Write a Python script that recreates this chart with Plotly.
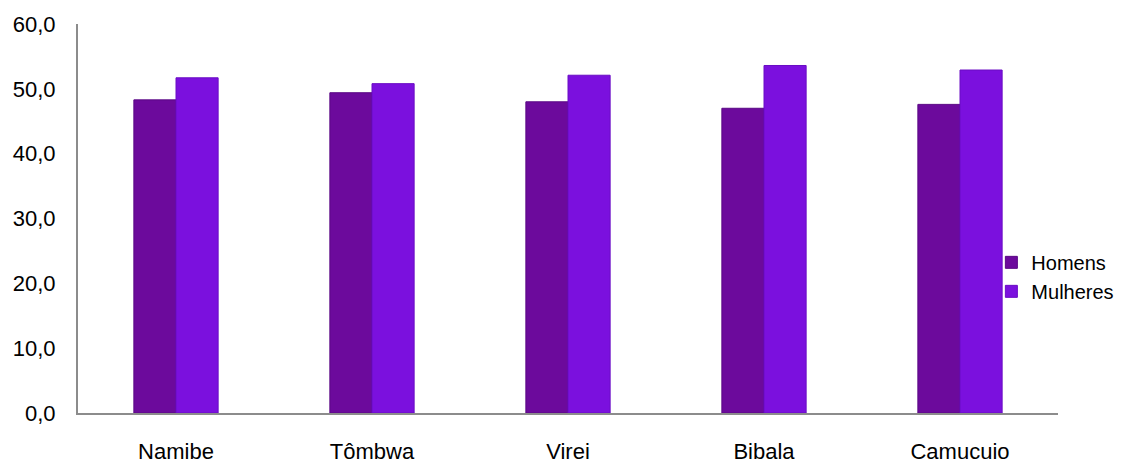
import plotly.graph_objects as go

categories = ["Namibe", "Tômbwa", "Virei", "Bibala", "Camucuio"]
homens = [48.3, 49.4, 48.0, 47.0, 47.6]
mulheres = [51.7, 50.8, 52.1, 53.6, 52.9]
y_ticks = [0, 10, 20, 30, 40, 50, 60]

font_family = "Liberation Sans Narrow, Arial Narrow, Liberation Sans, Arial, sans-serif"

fig = go.Figure()
fig.add_trace(go.Bar(name="Homens", x=categories, y=homens,
                     marker=dict(color="#6c0a9c", line=dict(color="#5a0885", width=1))))
fig.add_trace(go.Bar(name="Mulheres", x=categories, y=mulheres,
                     marker=dict(color="#7b10de", line=dict(color="#6a0cc4", width=1))))

# page body has an 8px margin, so the figure is slightly smaller and shifted
fig.update_layout(
    width=1137, height=458,
    barmode="group", bargap=0.57, bargroupgap=0,
    separators=", ",
    paper_bgcolor="white", plot_bgcolor="white",
    margin=dict(l=70, r=87, t=16, b=53, autoexpand=False),
    font=dict(family=font_family, size=22, color="#000000"),
    showlegend=True,
    legend=dict(x=0.932, y=0.35, xanchor="left", yanchor="middle",
                font=dict(size=20), itemwidth=30, tracegroupgap=0,
                bgcolor="rgba(0,0,0,0)"),
    xaxis=dict(showline=True, linecolor="#8c8c8c", linewidth=2, ticks="",
               showgrid=False, ticklabelstandoff=18, tickfont=dict(size=22),
               automargin=False),
    yaxis=dict(range=[0, 60], tickvals=y_ticks, tickformat=".1f",
               showline=True, linecolor="#8c8c8c", linewidth=2, ticks="",
               showgrid=False, zeroline=False, ticklabelstandoff=16,
               tickfont=dict(size=22), automargin=False),
)

fig.write_html("out.html")
